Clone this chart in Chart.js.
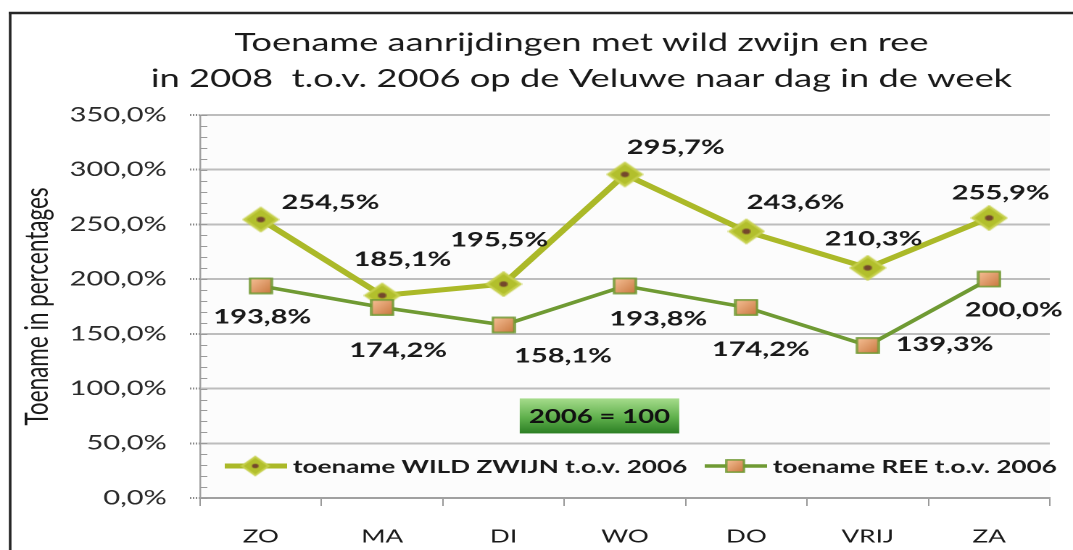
<!DOCTYPE html>
<html>
<head>
<meta charset="utf-8">
<title>Toename aanrijdingen met wild zwijn en ree</title>
<script src="https://cdn.jsdelivr.net/npm/chart.js@4.4.0/dist/chart.umd.min.js"></script>
<style>
  html, body { margin: 0; padding: 0; background: #fff; }
</style>
</head>
<body>
<!-- the original picture is stretched sideways, so the canvas is too -->
<canvas id="chart" width="740" height="550" style="display:block;width:1073px;height:550px"></canvas>
<script>
// data
const days = ['ZO', 'MA', 'DI', 'WO', 'DO', 'VRIJ', 'ZA'];
const wildZwijn = [254.5, 185.1, 195.5, 295.7, 243.6, 210.3, 255.9];
const ree = [193.8, 174.2, 158.1, 193.8, 174.2, 139.3, 200.0];
const seriesNames = ['toename WILD ZWIJN t.o.v. 2006', 'toename REE t.o.v. 2006'];
const titleLines = ['Toename aanrijdingen met wild zwijn en ree',
                    'in 2008  t.o.v. 2006 op de Veluwe naar dag in de week'];
const yTitle = 'Toename in percentages';
const baseNote = '2006 = 100';
const yMin = 0;
const yMax = 350;
const yStep = 50;
const yMinorStep = 10;

// where each value label sits, relative to its point
const wildLabelOffsets = [[48, -17], [14, -36], [-3, -44], [35, -27], [34, -29], [4, -29], [8, -25]];
const reeLabelOffsets = [[1, 31], [11, 43], [41, 31], [23, 33], [10, 42], [53, -1], [17, 31]];

const OLIVE = '#abb928';
const GREEN = '#6f9a33';
const TEXT_FONT = 'Lato, "Open Sans", sans-serif';

function pct(v) {
  return v.toFixed(1).replace('.', ',') + '%';
}

function diamondMarker() {
  const c = document.createElement('canvas');
  c.width = 26; c.height = 26;
  const g = c.getContext('2d');
  const h = 13, r = 11.5;
  g.beginPath();
  g.moveTo(h, h - r); g.lineTo(h + r, h); g.lineTo(h, h + r); g.lineTo(h - r, h);
  g.closePath();
  g.fillStyle = '#b2bf2c';
  g.fill();
  g.lineWidth = 2;
  g.strokeStyle = '#c6d04c';
  g.stroke();
  g.beginPath();
  g.arc(h, h, 2.8, 0, Math.PI * 2);
  g.fillStyle = '#74472c';
  g.fill();
  return c;
}

function squareMarker() {
  const c = document.createElement('canvas');
  c.width = 17; c.height = 17;
  const g = c.getContext('2d');
  const grad = g.createLinearGradient(1, 1, 16, 16);
  grad.addColorStop(0, '#f6c096');
  grad.addColorStop(1, '#c9773f');
  g.fillStyle = grad;
  g.fillRect(1, 1, 15, 15);
  g.lineWidth = 1.6;
  g.strokeStyle = GREEN;
  g.strokeRect(1, 1, 15, 15);
  return c;
}

const framePlugin = {
  id: 'frame',
  beforeDraw(chart) {
    const { ctx, chartArea: a, width, height } = chart;
    ctx.save();
    ctx.fillStyle = '#ffffff';
    ctx.fillRect(0, 0, width, height);
    ctx.fillStyle = '#fcfcfc';
    ctx.fillRect(a.left, a.top, a.right - a.left, a.bottom - a.top);
    ctx.strokeStyle = '#262626';
    ctx.lineWidth = 2.5;
    ctx.beginPath();
    ctx.moveTo(6, 13); ctx.lineTo(width, 13);
    ctx.stroke();
    ctx.lineWidth = 1.8;
    ctx.beginPath();
    ctx.moveTo(7, 12); ctx.lineTo(7, height);
    ctx.stroke();
    ctx.restore();
  }
};

const titlePlugin = {
  id: 'twoLineTitle',
  afterDraw(chart) {
    const ctx = chart.ctx;
    ctx.save();
    ctx.font = '25px ' + TEXT_FONT;
    ctx.fillStyle = '#1a1a1a';
    ctx.textAlign = 'center';
    ctx.textBaseline = 'alphabetic';
    ctx.fillText(titleLines[0], 401, 51);
    ctx.fillText(titleLines[1], 401, 87);
    ctx.restore();
  }
};

const minorTickPlugin = {
  id: 'minorTicks',
  beforeDatasetsDraw(chart) {
    const { ctx, chartArea: a } = chart;
    const y = chart.scales.y;
    ctx.save();
    ctx.strokeStyle = '#9a9a9a';
    ctx.lineWidth = 1;
    ctx.beginPath();
    for (let v = yMin; v <= yMax; v += yMinorStep) {
      const py = Math.round(y.getPixelForValue(v)) + 0.5;
      ctx.moveTo(a.left, py);
      ctx.lineTo(a.left + 5, py);
    }
    ctx.stroke();
    ctx.restore();
  }
};

const notePlugin = {
  id: 'baseNote',
  beforeDatasetsDraw(chart) {
    const ctx = chart.ctx;
    const cx = chart.scales.x.getPixelForValue(2.79);
    const cy = chart.scales.y.getPixelForValue(75);
    const w = 110, h = 35;
    ctx.save();
    const grad = ctx.createLinearGradient(0, cy - h / 2, 0, cy + h / 2);
    grad.addColorStop(0, '#a6dc8c');
    grad.addColorStop(0.55, '#5fb04c');
    grad.addColorStop(1, '#2c7f24');
    ctx.fillStyle = grad;
    ctx.fillRect(cx - w / 2, cy - h / 2, w, h);
    ctx.font = 'bold 19px ' + TEXT_FONT;
    ctx.fillStyle = '#111';
    ctx.textAlign = 'center';
    ctx.textBaseline = 'middle';
    ctx.fillText(baseNote, cx, cy + 1);
    ctx.restore();
  }
};

const legendPlugin = {
  id: 'innerLegend',
  afterDatasetsDraw(chart) {
    const { ctx, chartArea: a } = chart;
    const ly = a.bottom - 32;
    let x = a.left + 17;
    ctx.save();
    ctx.font = 'bold 18px ' + TEXT_FONT;
    ctx.textBaseline = 'middle';
    ctx.textAlign = 'left';
    chart.data.datasets.forEach((ds) => {
      ctx.strokeStyle = ds.borderColor;
      ctx.lineWidth = ds.borderWidth;
      ctx.beginPath();
      ctx.moveTo(x, ly); ctx.lineTo(x + 43, ly);
      ctx.stroke();
      const img = ds.pointStyle;
      const s = 0.8;
      ctx.drawImage(img, x + 21 - img.width * s / 2, ly - img.height * s / 2, img.width * s, img.height * s);
      ctx.fillStyle = '#1a1a1a';
      ctx.fillText(ds.label, x + 47, ly + 1);
      x += 47 + ctx.measureText(ds.label).width + 12;
    });
    ctx.restore();
  }
};

const valueLabelPlugin = {
  id: 'valueLabels',
  afterDatasetsDraw(chart) {
    const ctx = chart.ctx;
    const offsets = [wildLabelOffsets, reeLabelOffsets];
    ctx.save();
    ctx.font = 'bold 20px ' + TEXT_FONT;
    ctx.fillStyle = '#1a1a1a';
    ctx.textAlign = 'center';
    ctx.textBaseline = 'middle';
    chart.data.datasets.forEach((ds, i) => {
      chart.getDatasetMeta(i).data.forEach((pt, j) => {
        ctx.fillText(pct(ds.data[j]), pt.x + offsets[i][j][0], pt.y + offsets[i][j][1]);
      });
    });
    ctx.restore();
  }
};

const ctx = document.getElementById('chart').getContext('2d');

new Chart(ctx, {
  type: 'line',
  data: {
    labels: days,
    datasets: [
      {
        label: seriesNames[0],
        data: wildZwijn,
        borderColor: OLIVE,
        borderWidth: 5,
        pointStyle: diamondMarker(),
        pointRadius: 11,
        order: 1
      },
      {
        label: seriesNames[1],
        data: ree,
        borderColor: GREEN,
        borderWidth: 3.5,
        pointStyle: squareMarker(),
        pointRadius: 9,
        order: 0
      }
    ]
  },
  options: {
    responsive: false,
    devicePixelRatio: 2,
    animation: false,
    layout: { padding: { top: 115, left: 7, right: 14.5, bottom: 0 } },
    plugins: {
      legend: { display: false },
      title: { display: false },
      tooltip: { enabled: false }
    },
    scales: {
      x: {
        offset: true,
        grid: { offset: true, drawOnChartArea: false, drawTicks: true, tickLength: 8, color: '#9a9a9a' },
        border: { color: '#a0a0a0', width: 2 },
        ticks: { color: '#1a1a1a', padding: 20, font: { family: TEXT_FONT, size: 18 } },
        afterFit: function(scale) { scale.height = 52; }
      },
      y: {
        min: yMin,
        max: yMax,
        ticks: {
          stepSize: yStep,
          padding: 16,
          color: '#2a2a2a',
          font: { family: TEXT_FONT, size: 20 },
          callback: function(value) { return pct(value); }
        },
        grid: { color: '#bdbdbd', lineWidth: 2, tickLength: 7, tickColor: '#8a8a8a', tickBorderDash: [1, 1] },
        border: { color: '#a0a0a0', width: 1.2 },
        title: {
          display: true,
          text: yTitle,
          color: '#1a1a1a',
          padding: { top: 5, bottom: 0 },
          font: { family: TEXT_FONT, size: 22.5 }
        },
        afterFit: function(scale) { scale.width = 131; }
      }
    }
  },
  plugins: [framePlugin, minorTickPlugin, notePlugin, legendPlugin, valueLabelPlugin, titlePlugin]
});
</script>
</body>
</html>
